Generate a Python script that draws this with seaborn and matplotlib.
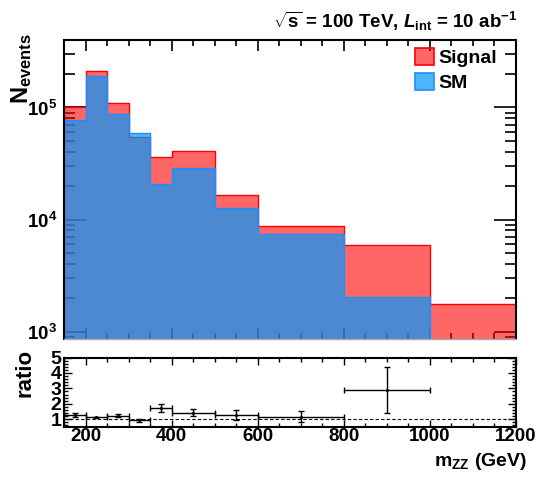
import numpy as np
import matplotlib
matplotlib.use("Agg")
import matplotlib.pyplot as plt
import seaborn as sns
from matplotlib.patches import Patch
from matplotlib.ticker import MultipleLocator, LogLocator, NullFormatter, LogFormatterMathtext

# m_ZZ binning (GeV) and event yields per bin
bin_edges = [150, 200, 250, 300, 350, 400, 500, 600, 800, 1000, 1200]
signal_events = [1.0e5, 2.13e5, 1.09e5, 5.47e4, 3.6e4, 4.08e4, 1.64e4, 8.73e3, 5.9e3, 1.75e3]
sm_events = [7.7e4, 1.9e5, 8.8e4, 5.9e4, 2.09e4, 2.88e4, 1.27e4, 7.46e3, 2.04e3, 0.0]
# statistical uncertainty on signal / SM
ratio_err = [0.13, 0.03, 0.10, 0.10, 0.28, 0.23, 0.32, 0.36, 1.47, 0.0]
x_ticks = [200, 400, 600, 800, 1000, 1200]
ratio_ticks = [1, 2, 3, 4, 5]

sns.set_style("ticks")
plt.rcParams["font.family"] = ["Liberation Sans", "DejaVu Sans"]
plt.rcParams["font.weight"] = "bold"
plt.rcParams["text.color"] = "black"
plt.rcParams["xtick.color"] = "black"
plt.rcParams["ytick.color"] = "black"
plt.rcParams["xtick.labelcolor"] = "black"
plt.rcParams["ytick.labelcolor"] = "black"
plt.rcParams["mathtext.fontset"] = "custom"
plt.rcParams["mathtext.rm"] = "Liberation Sans:bold"
plt.rcParams["mathtext.it"] = "Liberation Sans:bold:italic"
plt.rcParams["mathtext.bf"] = "Liberation Sans:bold"
plt.rcParams["mathtext.sf"] = "Liberation Sans:bold"

W, H = 538, 484
fig = plt.figure(figsize=(W / 100, H / 100), dpi=100)

edges = np.array(bin_edges, dtype=float)
centers = 0.5 * (edges[:-1] + edges[1:])
half_w = 0.5 * np.diff(edges)

sig_face = (1.0, 0.0, 0.0, 0.6)
sm_face = (0.0, 0.6, 1.0, 0.7)

# ---------------- main panel ----------------
ax = fig.add_axes([64 / W, (H - 339) / H, 452 / W, 299 / H])
ax.set_yscale("log")
sns.histplot(x=centers, weights=signal_events, bins=bin_edges, element="step",
             fill=True, facecolor=sig_face, edgecolor=(1, 0, 0, 1), linewidth=1.0,
             ax=ax)
sns.histplot(x=centers, weights=sm_events, bins=bin_edges, element="step",
             fill=True, facecolor=sm_face, edgecolor=(0.12, 0.56, 1.0, 1), linewidth=1.0,
             ax=ax)
ax.set_xlim(150, 1200)
ax.set_ylim(860, 4.0e5)
ax.set_xlabel("")
ax.set_ylabel("")
ax.xaxis.set_major_locator(MultipleLocator(200))
ax.xaxis.set_minor_locator(MultipleLocator(50))
ax.xaxis.set_major_formatter(NullFormatter())
ax.yaxis.set_major_locator(LogLocator(base=10))
ax.yaxis.set_minor_locator(LogLocator(base=10, subs=np.arange(2, 10)))
ax.yaxis.set_major_formatter(LogFormatterMathtext())
ax.yaxis.set_minor_formatter(NullFormatter())
ax.tick_params(axis="both", which="both", direction="in", top=True, right=True,
               labelsize=13.5, width=1.2)
ax.tick_params(axis="y", which="major", length=16, pad=5)
ax.tick_params(axis="y", which="minor", length=8)
ax.tick_params(axis="x", which="major", length=8)
ax.tick_params(axis="x", which="minor", length=4)
for s in ax.spines.values():
    s.set_linewidth(1.5)
    s.set_color("black")
ax.spines["bottom"].set_color("#a8a8a8")
ax.spines["bottom"].set_linewidth(1.0)

handles = [Patch(facecolor=sig_face, edgecolor="red", linewidth=1.2, label="Signal"),
           Patch(facecolor=(0.0, 0.6, 1.0, 0.7), edgecolor=(0.12, 0.56, 1.0), linewidth=1.2,
                 label="SM")]
ax.legend(handles=handles, loc="upper right", bbox_to_anchor=(0.975, 1.0),
          frameon=False, handlelength=1.0, handleheight=1.0,
          handletextpad=0.2, labelspacing=0.3, borderaxespad=0.2, borderpad=0.2,
          prop={"weight": "bold", "size": 14})

# ---------------- ratio panel ----------------
rax = fig.add_axes([64 / W, (H - 427) / H, 452 / W, 69.5 / H])
sig = np.array(signal_events)
sm = np.array(sm_events)
valid = sm > 0
ratio = np.where(valid, sig / np.where(valid, sm, 1), np.nan)
rax.errorbar(centers[valid], ratio[valid], xerr=half_w[valid],
             yerr=np.array(ratio_err)[valid], fmt=".", markersize=2.5,
             color="black", ecolor="black", elinewidth=1.0, capsize=2, capthick=1.0)
rax.axhline(1.0, color="black", linestyle=(0, (3, 2)), linewidth=0.8)
rax.set_xlim(150, 1200)
rax.set_ylim(0.5, 5.0)
rax.set_xticks(x_ticks)
rax.set_yticks(ratio_ticks)
rax.xaxis.set_minor_locator(MultipleLocator(50))
rax.yaxis.set_minor_locator(MultipleLocator(0.2))
rax.tick_params(axis="both", which="both", direction="in", top=True, right=True,
                width=1.0)
rax.tick_params(axis="x", labelsize=13.5)
rax.tick_params(axis="y", labelsize=14)
rax.tick_params(axis="y", which="major", length=6, pad=2)
rax.tick_params(axis="y", which="minor", length=3)
rax.tick_params(axis="x", which="major", length=5, pad=0.5)
rax.tick_params(axis="x", which="minor", length=3)
for s in rax.spines.values():
    s.set_linewidth(1.5)
    s.set_color("black")

# ---------------- labels ----------------
fig.text(517 / W, 1 - 28 / H,
         r"$\sqrt{\mathrm{s}}$ = 100 TeV, $L_{\mathrm{int}}$ = 10 ab$^{\mathrm{-1}}$",
         ha="right", va="baseline", fontsize=13.5, fontweight="bold")
fig.text(22 / W, 1 - 33 / H, r"N$_{\mathrm{events}}$", rotation=90,
         ha="center", va="top", fontsize=17, fontweight="bold")
fig.text(25 / W, 1 - 373 / H, "ratio", rotation=90, ha="center", va="center",
         fontsize=16, fontweight="bold")
fig.text(527 / W, 1 - 466 / H, r"m$_{\mathrm{ZZ}}$ (GeV)", ha="right",
         va="baseline", fontsize=14, fontweight="bold")

fig.savefig("out.png", dpi=100)
